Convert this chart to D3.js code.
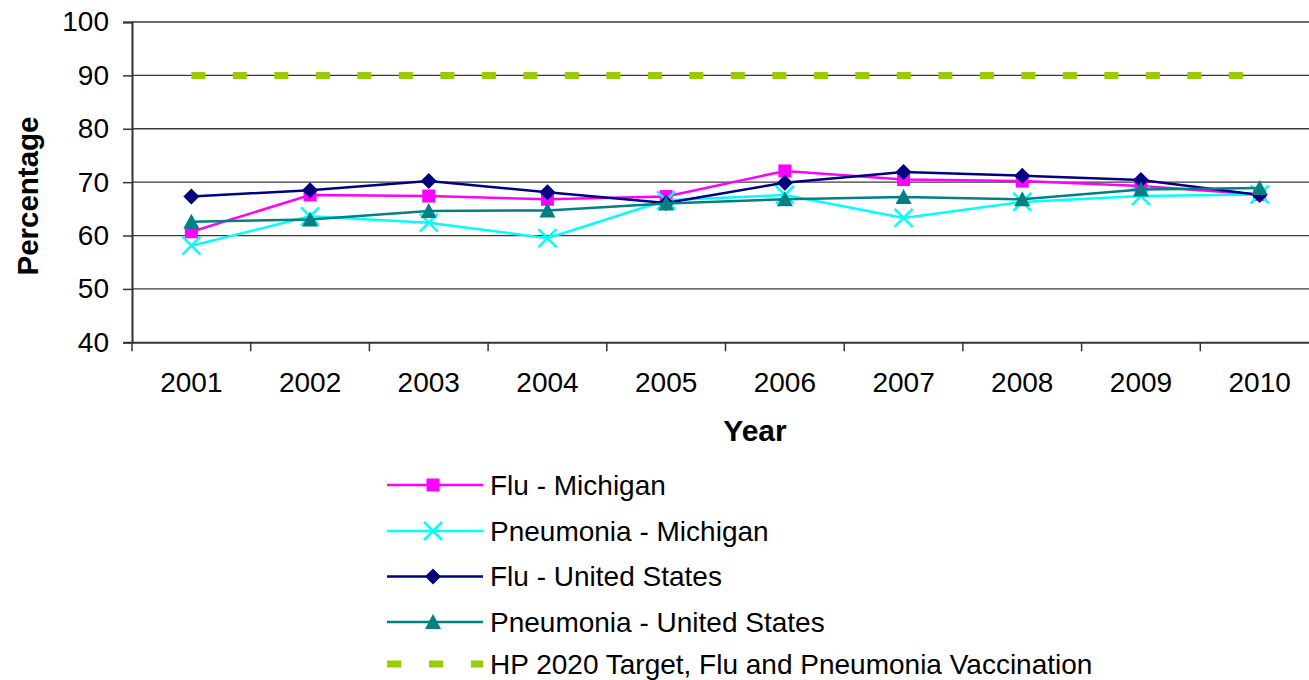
<!DOCTYPE html>
<html>
<head>
<meta charset="utf-8">
<script src="https://cdn.jsdelivr.net/npm/d3@7"></script>
<style>
  html, body { margin: 0; padding: 0; background: #fff; }
  svg { display: block; font-family: "Liberation Sans", Arial, sans-serif; }
</style>
</head>
<body>
<svg id="chart" width="1309" height="680"></svg>
<script>
// Vaccination coverage, adults 65+, 2001-2010
const years = ["2001", "2002", "2003", "2004", "2005", "2006", "2007", "2008", "2009", "2010"];
const yTicks = [40, 50, 60, 70, 80, 90, 100];

const fluMichigan       = [60.7, 67.6, 67.4, 66.8, 67.3, 72.1, 70.5, 70.2, 69.3, 67.7];
const pneumoniaMichigan = [58.1, 63.6, 62.4, 59.5, 66.6, 67.6, 63.3, 66.3, 67.4, 67.7];
const fluUS             = [67.3, 68.5, 70.2, 68.1, 66.1, 69.9, 71.9, 71.2, 70.4, 67.6];
const pneumoniaUS       = [62.6, 63.0, 64.6, 64.7, 66.0, 66.8, 67.2, 66.8, 68.6, 68.9];
const hp2020Target      = [90, 90, 90, 90, 90, 90, 90, 90, 90, 90];

const seriesNames = [
  "Flu - Michigan",
  "Pneumonia - Michigan",
  "Flu - United States",
  "Pneumonia - United States",
  "HP 2020 Target, Flu and Pneumonia Vaccination"
];

const series = [
  { name: seriesNames[0], values: fluMichigan,       color: "#FF00FF", marker: "square" },
  { name: seriesNames[1], values: pneumoniaMichigan, color: "#00FFFF", marker: "cross" },
  { name: seriesNames[2], values: fluUS,             color: "#000080", marker: "diamond" },
  { name: seriesNames[3], values: pneumoniaUS,       color: "#008080", marker: "triangle" },
  { name: seriesNames[4], values: hp2020Target,      color: "#99CC00", marker: "none", dashed: true }
];

const svg = d3.select("#chart");
const plot = { left: 132, right: 1319, top: 22, bottom: 342.3 };
const FONT = "Liberation Sans, Arial, sans-serif";

const x = d3.scaleBand().domain(years).range([plot.left, plot.right]).padding(0);
const y = d3.scaleLinear().domain([40, 100]).range([plot.bottom, plot.top]);
const cx = d => x(d) + x.bandwidth() / 2;

// Horizontal gridlines
svg.append("g")
  .selectAll("line")
  .data(yTicks.filter(t => t > 40))
  .join("line")
  .attr("x1", plot.left).attr("x2", plot.right)
  .attr("y1", d => y(d)).attr("y2", d => y(d))
  .attr("stroke", "#3a3a3a").attr("stroke-width", 1.3);

// Y axis
const yAxis = svg.append("g")
  .attr("transform", `translate(${plot.left},0)`)
  .call(d3.axisLeft(y).tickValues(yTicks).tickSize(9).tickPadding(14));
yAxis.select(".domain").attr("stroke", "#333").attr("stroke-width", 2);
yAxis.selectAll(".tick line").attr("stroke", "#333").attr("stroke-width", 1.5);
yAxis.selectAll("text").attr("font-size", 28).attr("fill", "#000").style("font-family", FONT);

// X axis: labels centred in each category, ticks on category boundaries
const xAxis = svg.append("g")
  .attr("transform", `translate(0,${plot.bottom})`)
  .call(d3.axisBottom(x).tickSize(0).tickPadding(30));
xAxis.select(".domain").attr("stroke", "#333").attr("stroke-width", 2);
xAxis.selectAll("text").attr("font-size", 28).attr("fill", "#000").style("font-family", FONT);
svg.append("g")
  .selectAll("line")
  .data(d3.range(years.length + 1))
  .join("line")
  .attr("x1", i => plot.left + i * x.step()).attr("x2", i => plot.left + i * x.step())
  .attr("y1", plot.bottom).attr("y2", plot.bottom + 9)
  .attr("stroke", "#333").attr("stroke-width", 1.5);

// Axis titles
svg.append("text")
  .attr("transform", "translate(38,196) rotate(-90)")
  .attr("text-anchor", "middle")
  .attr("font-size", 29.5).attr("font-weight", "bold")
  .text("Percentage");
svg.append("text")
  .attr("x", 755).attr("y", 441)
  .attr("text-anchor", "middle")
  .attr("font-size", 30).attr("font-weight", "bold")
  .text("Year");

// Marker drawing
function drawMarker(g, type, color) {
  if (type === "square") {
    g.append("rect").attr("x", -6.5).attr("y", -6.5).attr("width", 13).attr("height", 13).attr("fill", color);
  } else if (type === "diamond") {
    g.append("path").attr("d", "M0,-8L8,0L0,8L-8,0Z").attr("fill", color);
  } else if (type === "triangle") {
    g.append("path").attr("d", "M0,-8L8,7L-8,7Z").attr("fill", color);
  } else if (type === "cross") {
    g.append("path").attr("d", "M-9,-9L9,9M-9,9L9,-9")
      .attr("stroke", color).attr("stroke-width", 2.5).attr("fill", "none");
  }
}

const line = d3.line().x((d, i) => cx(years[i])).y(d => y(d));

series.forEach(s => {
  const g = svg.append("g");
  const path = g.append("path")
    .attr("d", line(s.values))
    .attr("fill", "none")
    .attr("stroke", s.color);
  if (s.dashed) {
    path.attr("stroke-width", 7).attr("stroke-dasharray", "14,27.5");
  } else {
    path.attr("stroke-width", 2.5);
    s.values.forEach((v, i) => {
      const m = g.append("g").attr("transform", `translate(${cx(years[i])},${y(v)})`);
      drawMarker(m, s.marker, s.color);
    });
  }
});

// Legend
const legendRows = [485, 531, 576.5, 622, 664];
const legend = svg.append("g");
series.forEach((s, i) => {
  const row = legend.append("g").attr("transform", `translate(0,${legendRows[i]})`);
  const l = row.append("line")
    .attr("x1", 387).attr("x2", 483).attr("y1", 0).attr("y2", 0)
    .attr("stroke", s.color);
  if (s.dashed) {
    l.attr("stroke-width", 7).attr("stroke-dasharray", "14,28");
  } else {
    l.attr("stroke-width", 2.5);
    drawMarker(row.append("g").attr("transform", "translate(433,0)"), s.marker, s.color);
  }
  row.append("text")
    .attr("x", 490).attr("y", 0).attr("dy", "0.34em")
    .attr("font-size", 28).attr("fill", "#000")
    .text(s.name);
});
</script>
</body>
</html>
